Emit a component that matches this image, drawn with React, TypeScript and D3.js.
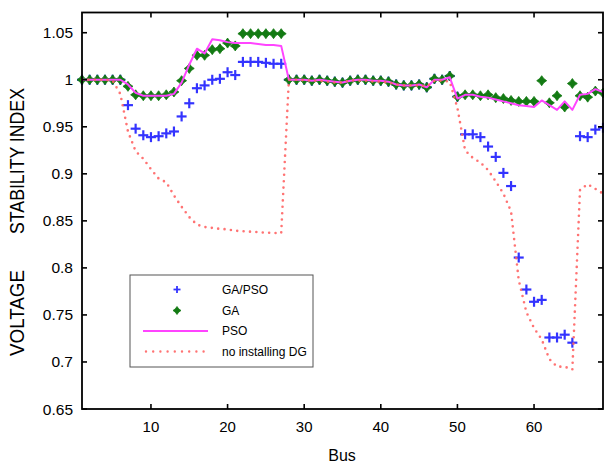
import React from "react";
import * as d3 from "d3";

const buses: number[] = d3.range(1, 70);

const gaPso: number[] = [
  1.0, 1.0, 1.0, 1.0, 1.0, 1.0, 0.973, 0.948, 0.941, 0.939,
  0.94, 0.943, 0.945, 0.961, 0.975, 0.991, 0.994, 1.0, 1.001, 1.008,
  1.005, 1.019, 1.019, 1.019, 1.018, 1.017, 1.017, 1.0, 1.0, 1.0,
  0.999, 1.0, 0.999, 0.998, 0.997, 0.999, 1.0, 1.0, 0.999, 0.999,
  0.998, 0.995, 0.994, 0.994, 0.995, 0.992, 1.001, 1.0, 1.004, 0.982,
  0.942, 0.942, 0.939, 0.929, 0.918, 0.901, 0.887, 0.811, 0.777, 0.764,
  0.766, 0.726, 0.726, 0.729, 0.7205, 0.94, 0.939, 0.947, 0.949,
];

const ga: number[] = [
  1.0, 1.0, 1.0, 1.0, 1.0, 1.0, 0.993, 0.984, 0.983, 0.983,
  0.983, 0.984, 0.987, 0.999, 1.012, 1.026, 1.026, 1.032, 1.033, 1.039,
  1.036, 1.049, 1.049, 1.049, 1.049, 1.049, 1.049, 1.0, 1.0, 1.0,
  0.999, 1.0, 0.999, 0.998, 0.997, 0.999, 1.0, 1.0, 0.999, 0.999,
  0.998, 0.995, 0.994, 0.994, 0.995, 0.992, 1.001, 1.0, 1.004, 0.982,
  0.984, 0.984, 0.983, 0.984, 0.981, 0.98, 0.978, 0.977, 0.977, 0.977,
  0.999, 0.9755, 0.983, 0.971, 0.996, 0.983, 0.9815, 0.988, 0.986,
];

const pso: number[] = [
  1.0, 1.0, 1.0, 1.0, 1.0, 1.0, 0.995, 0.986, 0.983, 0.983,
  0.983, 0.983, 0.985, 0.997, 1.016, 1.033, 1.028, 1.043, 1.042, 1.04,
  1.039, 1.039, 1.039, 1.038, 1.037, 1.037, 1.036, 1.0, 1.0, 1.0,
  0.999, 1.0, 0.999, 0.998, 0.997, 0.999, 1.0, 1.0, 0.999, 0.999,
  0.998, 0.995, 0.994, 0.994, 0.995, 0.992, 1.0, 1.0, 1.0026, 0.98,
  0.984, 0.984, 0.982, 0.981, 0.979, 0.977, 0.975, 0.973, 0.972, 0.971,
  0.978, 0.973, 0.968, 0.977, 0.968, 0.984, 0.985, 0.99, 0.987,
];

const noDG: number[] = [
  1.0, 1.0, 1.0, 1.0, 0.999, 0.985, 0.945, 0.924, 0.916, 0.905,
  0.895, 0.891, 0.877, 0.865, 0.854, 0.846, 0.8435, 0.8425, 0.8415, 0.841,
  0.8395, 0.839, 0.8385, 0.838, 0.8375, 0.8372, 0.837, 1.0, 1.0, 0.9995,
  0.999, 0.999, 0.998, 0.997, 0.997, 0.9995, 0.999, 0.999, 0.998, 0.998,
  0.997, 0.995, 0.994, 0.994, 0.994, 0.993, 0.999, 0.999, 0.998, 0.97,
  0.925, 0.917, 0.912, 0.904, 0.892, 0.879, 0.86, 0.787, 0.753, 0.736,
  0.724, 0.703, 0.695, 0.695, 0.692, 0.883, 0.889, 0.884, 0.879,
];

const xTicks: number[] = [10, 20, 30, 40, 50, 60];
const yTicks: number[] = [0.65, 0.7, 0.75, 0.8, 0.85, 0.9, 0.95, 1, 1.05];
const yTickLabels: string[] = ["0.65", "0.7", "0.75", "0.8", "0.85", "0.9", "0.95", "1", "1.05"];
const legendLabels: string[] = ["GA/PSO", "GA", "PSO", "no installing DG"];

const W = 604;
const H = 465;
const FONT = "Arial, 'Liberation Sans', Helvetica, sans-serif";

const BLUE = "#3333ff";
const GREEN = "#137a13";
const MAGENTA = "#ff44ff";
const RED = "#ff6464";

function Cross({ x, y, s = 5, w = 2.2 }: { x: number; y: number; s?: number; w?: number }) {
  return (
    <g stroke={BLUE} strokeWidth={w}>
      <line x1={x - s} x2={x + s} y1={y} y2={y} />
      <line x1={x} x2={x} y1={y - s} y2={y + s} />
    </g>
  );
}

function Star({ x, y, s = 5 }: { x: number; y: number; s?: number }) {
  const k = s * 0.42;
  const d = `M${x},${y - s}L${x + k},${y - k}L${x + s},${y}L${x + k},${y + k}L${x},${y + s}L${x - k},${y + k}L${x - s},${y}L${x - k},${y - k}Z`;
  return <path d={d} fill={GREEN} stroke={GREEN} strokeWidth={0.8} strokeLinejoin="round" />;
}

export default function App() {
  const x = d3.scaleLinear().domain([1, 69]).range([82, 603]);
  const y = d3.scaleLinear().domain([0.65, 1.0715]).range([409, 12.5]);
  const [x0, x1] = x.range();
  const [yb, yt] = y.range();

  const line = d3
    .line<number>()
    .x((_, i) => x(buses[i]))
    .y((d) => y(d));

  const legX = 130;
  const legY = 275;
  const legRows = [289.5, 310.5, 331, 351.5];

  return (
    <svg
      width={W}
      height={H}
      style={{ position: "absolute", left: 0, top: 0, background: "#fff" }}
      fontFamily={FONT}
    >
      <rect x={0} y={0} width={W} height={H} fill="#fff" />

      {/* series */}
      <g>
        {gaPso.map((v, i) => (
          <Cross key={"b" + i} x={x(buses[i])} y={y(v)} />
        ))}
      </g>
      <g>
        {ga.map((v, i) => (
          <Star key={"g" + i} x={x(buses[i])} y={y(v)} />
        ))}
      </g>
      <path d={line(pso) || ""} fill="none" stroke={MAGENTA} strokeWidth={2} strokeLinejoin="round" />
      <path
        d={line(noDG) || ""}
        fill="none"
        stroke={RED}
        strokeOpacity={0.9}
        strokeWidth={2.6}
        strokeDasharray="0 6.4"
        strokeLinecap="round"
      />

      {/* axes box */}
      <rect x={x0} y={yt} width={x1 - x0} height={yb - yt} fill="none" stroke="#000" strokeWidth={1.8} />
      {xTicks.map((t) => (
        <g key={"xt" + t}>
          <line x1={x(t)} x2={x(t)} y1={yb} y2={yb - 5} stroke="#000" strokeWidth={1.6} />
          <line x1={x(t)} x2={x(t)} y1={yt} y2={yt + 5} stroke="#000" strokeWidth={1.6} />
          <text x={x(t)} y={432} textAnchor="middle" fontSize={15} fill="#000">
            {t}
          </text>
        </g>
      ))}
      {yTicks.map((t, i) => (
        <g key={"yt" + t}>
          <line x1={x0} x2={x0 + 5} y1={y(t)} y2={y(t)} stroke="#000" strokeWidth={1.6} />
          <line x1={x1} x2={x1 - 5} y1={y(t)} y2={y(t)} stroke="#000" strokeWidth={1.6} />
          <text x={73} y={y(t) + 5.5} textAnchor="end" fontSize={15.5} fill="#000">
            {yTickLabels[i]}
          </text>
        </g>
      ))}

      {/* axis labels */}
      <text x={342} y={461} textAnchor="middle" fontSize={16} fill="#000">
        Bus
      </text>
      <text
        transform={`translate(24,313) rotate(-90)`}
        textAnchor="middle"
        fontSize={20}
        fill="#000"
        textLength={86}
        lengthAdjust="spacingAndGlyphs"
      >
        VOLTAGE
      </text>
      <text
        transform={`translate(24,161) rotate(-90)`}
        textAnchor="middle"
        fontSize={20}
        fill="#000"
        textLength={146}
        lengthAdjust="spacingAndGlyphs"
      >
        STABILITY INDEX
      </text>

      {/* legend */}
      <rect x={legX} y={legY} width={183} height={92} fill="#fff" stroke="#555" strokeWidth={1} />
      <Cross x={177} y={legRows[0]} s={3.5} w={1.8} />
      <Star x={177} y={legRows[1]} s={4} />
      <line x1={143} x2={208} y1={legRows[2]} y2={legRows[2]} stroke={MAGENTA} strokeWidth={2} />
      <line
        x1={146}
        x2={204}
        y1={legRows[3]}
        y2={legRows[3]}
        stroke={RED}
        strokeOpacity={0.9}
        strokeWidth={2.4}
        strokeDasharray="0 7.2"
        strokeLinecap="round"
      />
      {legendLabels.map((l, i) => (
        <text key={l} x={222} y={legRows[i] + 4.2} fontSize={12} fill="#000">
          {l}
        </text>
      ))}
    </svg>
  );
}
